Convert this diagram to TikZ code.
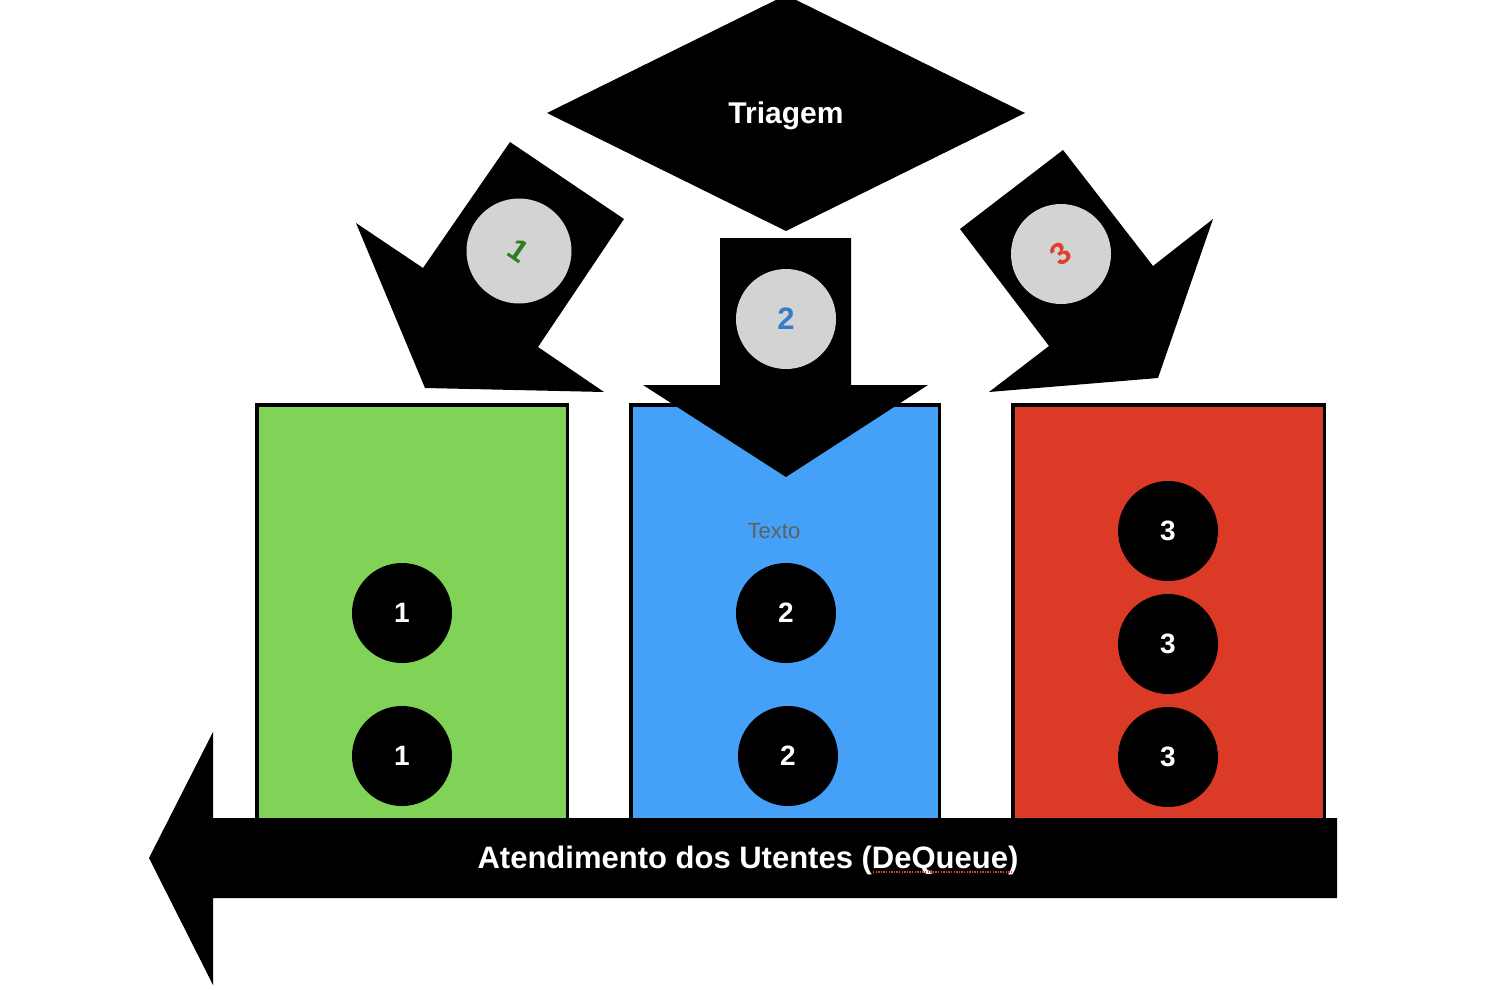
\documentclass[tikz,border=0pt]{standalone}
\usepackage{fontspec}
\setmainfont{Liberation Sans}
\definecolor{boxgreen}{RGB}{129,211,87}
\definecolor{boxblue}{RGB}{69,161,247}
\definecolor{boxred}{RGB}{219,58,38}
\definecolor{discgray}{RGB}{211,211,211}
\definecolor{txtgreen}{RGB}{46,125,33}
\definecolor{txtblue}{RGB}{55,125,196}
\definecolor{txtred}{RGB}{224,64,42}
\definecolor{txtgray}{RGB}{95,95,95}
\begin{document}
\begin{tikzpicture}[x=1pt,y=-1pt,
  queuebox/.style={draw=black, line width=3.5pt},
  token/.style={circle, fill=black, minimum size=100pt, inner sep=0pt, text=white, font=\fontsize{28}{34}\selectfont\bfseries},
  badge/.style={circle, fill=discgray, minimum size=100pt, inner sep=0pt, font=\fontsize{31}{36}\selectfont\bfseries},
  bigarrow/.style={fill=black},
  label/.style={text=white, inner sep=0pt, anchor=base}]
\useasboundingbox (0,0) rectangle (1512,990);
\fill[white] (0,0) rectangle (1512,990);
% queues
\filldraw[queuebox, fill=boxgreen] (256.75,404.75) rectangle (567.25,840);
\filldraw[queuebox, fill=boxblue] (630.75,404.75) rectangle (939.25,840);
\filldraw[queuebox, fill=boxred] (1012.75,404.75) rectangle (1324.25,840);
% tokens
\node[token] (g1) at (402,613) {1};
\node[token] (g2) at (402,756) {1};
\node[token] (u1) at (786,613) {2};
\node[token] (u2) at (788,756) {2};
\node[token] (r1) at (1168,531) {3};
\node[token] (r2) at (1168,644) {3};
\node[token] (r3) at (1168,757) {3};
\node[text=txtgray, font=\fontsize{22}{26}\selectfont] (texto) at (774,531) {Texto};
% triage diamond
\fill[black] (786,-5) -- (1025,113) -- (786,231) -- (547,113) -- cycle;
\node[label, font=\fontsize{30}{36}\selectfont\bfseries] (triagem) at (786,123.5) {Triagem};
% arrows from triage
\fill[bigarrow] (510,142) -- (624,219) -- (538,347) -- (604,392) -- (425,388) -- (356,223) -- (423,268) -- cycle;
\fill[bigarrow] (720,238) -- (851,238) -- (851,385) -- (928,385) -- (786,477) -- (643,385) -- (720,385) -- cycle;
\fill[bigarrow] (1063,150) -- (1153,266) -- (1213,219) -- (1158,378) -- (989,392) -- (1049,346) -- (960,229) -- cycle;
\node[badge, minimum size=105pt, text=txtgreen] (b1) at (519,251) {\rotatebox{-34.6}{1}};
\node[badge, text=txtblue] (b2) at (786,319) {2};
\node[badge, text=txtred] (b3) at (1061,254) {\rotatebox{37.8}{3}};
% dequeue arrow
\fill[bigarrow] (149,858) -- (213,732) -- (213,818) -- (1337,818) -- (1337,898) -- (213,898) -- (213,985) -- cycle;
\node[label, font=\fontsize{31}{36}\selectfont\bfseries] (deq) at (748,868) {Atendimento dos Utentes (DeQueue)};
\draw[txtred, line width=1.3pt, dash pattern=on 1.3pt off 1.3pt] (873,872) -- (1012,872);
\end{tikzpicture}
\end{document}
